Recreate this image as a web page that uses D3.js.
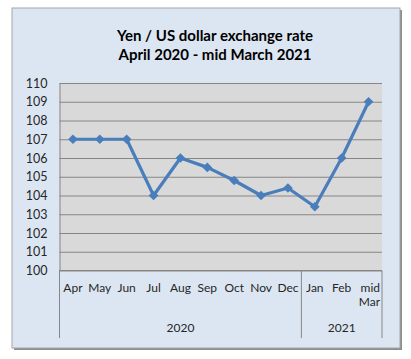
<!DOCTYPE html>
<html><head><meta charset="utf-8">
<script src="https://cdn.jsdelivr.net/npm/d3@7"></script>
<style>html,body{margin:0;padding:0;background:#fff;}svg{display:block;}</style>
</head><body>
<script>
const months = ["Apr","May","Jun","Jul","Aug","Sep","Oct","Nov","Dec","Jan","Feb","mid Mar"];
const rates = [107,107,107,104,106,105.5,104.8,104,104.4,103.4,106,109];
const years = [{label:"2020", from:0, to:8},{label:"2021", from:9, to:11}];
const yTicks = [100,101,102,103,104,105,106,107,108,109,110];
const titleLines = ["Yen / US dollar exchange rate","April 2020 - mid March 2021"];

const W=411,H=359;
const svg=d3.select("body").append("svg").attr("width",W).attr("height",H);
const font="Lato, 'Open Sans', sans-serif";

// shadow + frame
svg.append("rect").attr("x",14).attr("y",10).attr("width",388).attr("height",340).attr("fill","#8c8c8c");
svg.append("rect").attr("x",12).attr("y",8).attr("width",388).attr("height",340).attr("fill","#dce6f2").attr("stroke","#a6a6a6").attr("stroke-width",1);

const L=59.5,R=382,T=83,B=270.5;
const x=d3.scaleBand().domain(months).range([L,R]);
const y=d3.scaleLinear().domain([100,110]).range([B,T]);

svg.append("rect").attr("x",L).attr("y",T).attr("width",R-L).attr("height",B-T).attr("fill","#d9d9d9");

// gridlines
svg.append("g").attr("transform",`translate(${L},0)`)
  .call(d3.axisLeft(y).tickValues(yTicks).tickSize(-(R-L)).tickFormat(""))
  .call(g=>{g.select(".domain").remove();g.selectAll("line").attr("stroke","#868686").attr("stroke-width",1);});

// y labels
svg.append("g").attr("transform",`translate(${L},0)`)
  .call(d3.axisLeft(y).tickValues(yTicks).tickSize(0).tickPadding(12).tickFormat(d3.format("d")))
  .call(g=>{g.select(".domain").attr("stroke","#868686");
    g.selectAll("text").attr("font-family",font).attr("font-size","12.5px").attr("fill","#262626");});

// category axis
const xa=svg.append("g");
xa.append("line").attr("x1",L).attr("x2",R).attr("y1",B).attr("y2",B).attr("stroke","#868686");
const sepXs=[L, x(months[years[1].from]), R];
sepXs.forEach(sx=>xa.append("line").attr("x1",sx).attr("x2",sx).attr("y1",B).attr("y2",338).attr("stroke","#868686"));
months.forEach(m=>{
  const cx=x(m)+x.bandwidth()/2;
  const parts=m.split(" ");
  if(parts.length===1){
    xa.append("text").attr("x",cx).attr("y",292).attr("text-anchor","middle").attr("font-family",font).attr("font-size","12px").attr("fill","#262626").text(m);
  } else {
    xa.append("text").attr("x",x(m)+x.bandwidth()-2).attr("y",292).attr("text-anchor","end").attr("font-family",font).attr("font-size","12px").attr("fill","#262626").text(parts[0]);
    xa.append("text").attr("x",x(m)+x.bandwidth()-2).attr("y",306).attr("text-anchor","end").attr("font-family",font).attr("font-size","12px").attr("fill","#262626").text(parts[1]);
  }
});
years.forEach(yr=>{
  const cx=(x(months[yr.from])+x(months[yr.to])+x.bandwidth())/2;
  xa.append("text").attr("x",cx).attr("y",332).attr("text-anchor","middle").attr("font-family",font).attr("font-size","12px").attr("fill","#262626").text(yr.label);
});

// line
const cxf=(d,i)=>x(months[i])+x.bandwidth()/2;
svg.append("path").datum(rates).attr("fill","none").attr("stroke","#4a7ebb").attr("stroke-width",3.2).attr("stroke-linejoin","round")
  .attr("d",d3.line().x(cxf).y(d=>y(d)));
svg.append("g").selectAll("path").data(rates).join("path")
  .attr("transform",(d,i)=>`translate(${cxf(d,i)},${y(d)})`)
  .attr("d",d3.symbol(d3.symbolDiamond2,60)).attr("fill","#4a7ebb");

// title
titleLines.forEach((t,i)=>svg.append("text").attr("x",215).attr("y",41+i*19).attr("text-anchor","middle")
  .attr("font-family",font).attr("font-weight","bold").attr("font-size","15px").attr("fill","#000").text(t));
</script>
</body></html>
